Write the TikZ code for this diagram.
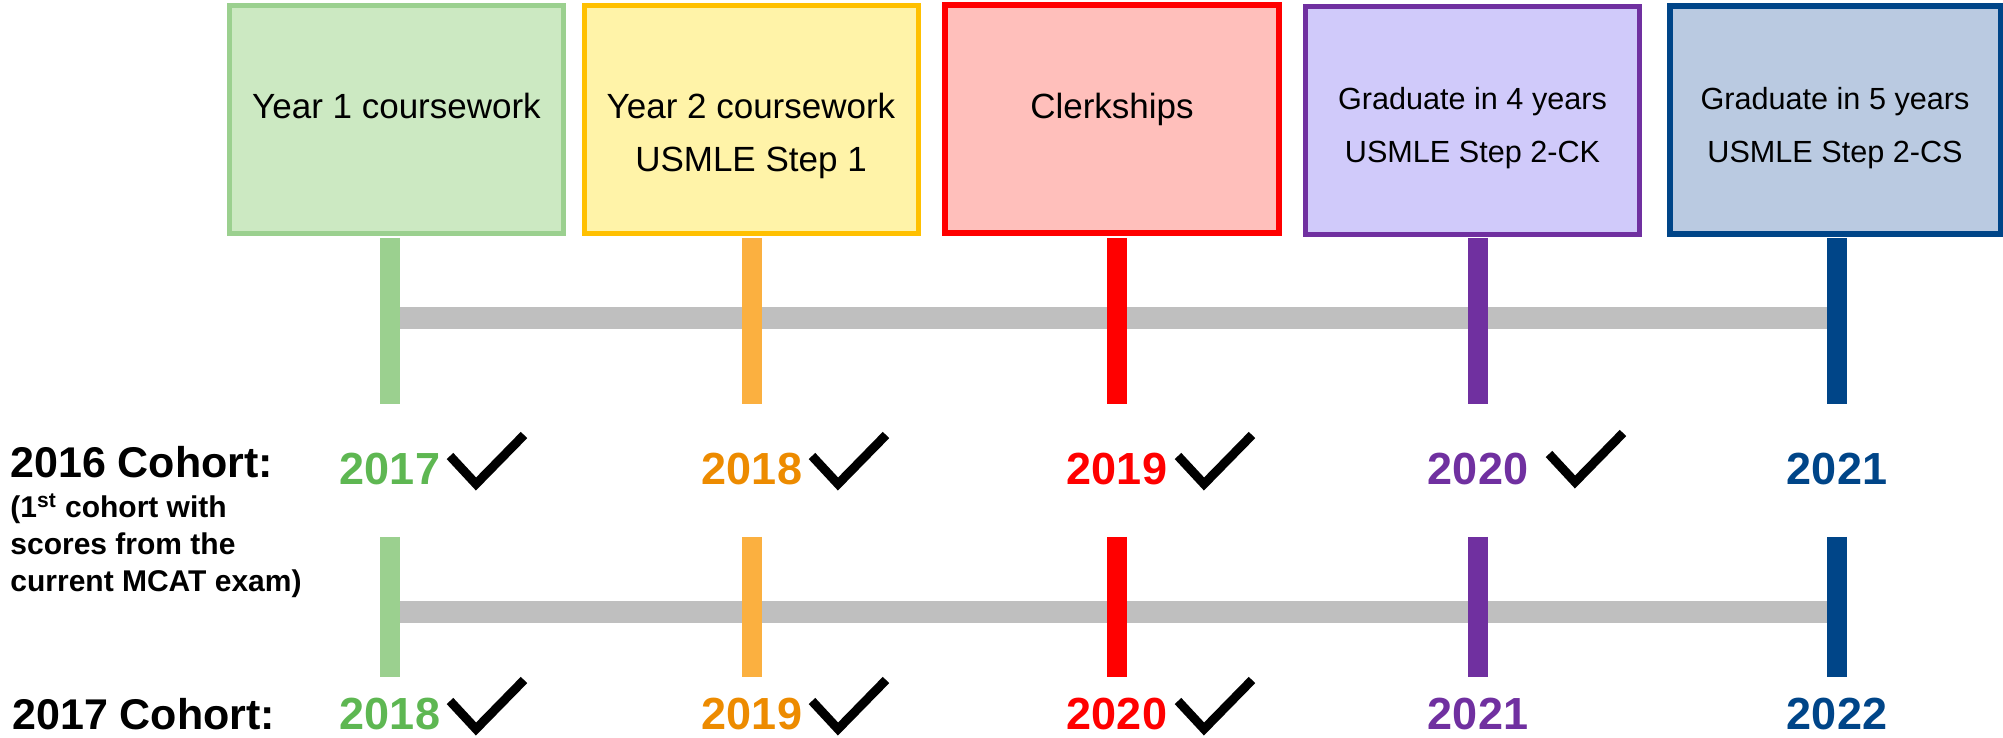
\documentclass[tikz,border=0pt]{standalone}
\usepackage{fontspec}
\setmainfont{Liberation Sans}
\usepackage{xcolor}
\usepackage{tikz}

\definecolor{greenline}{RGB}{155,208,143}
\definecolor{greenfill}{RGB}{204,233,194}
\definecolor{greentext}{RGB}{94,183,82}
\definecolor{orangeline}{RGB}{255,192,0}
\definecolor{orangefill}{RGB}{255,243,168}
\definecolor{orangetick}{RGB}{251,176,64}
\definecolor{orangetext}{RGB}{237,139,0}
\definecolor{redfill}{RGB}{255,191,187}
\definecolor{purpleline}{RGB}{112,48,160}
\definecolor{purplefill}{RGB}{208,202,250}
\definecolor{blueline}{RGB}{0,69,136}
\definecolor{bluefill}{RGB}{186,202,225}
\definecolor{railgray}{RGB}{191,191,191}

\begin{document}
\begin{tikzpicture}[x=0.5pt,y=0.5pt,
  card/.style={draw, line width=2.5pt, minimum width=167pt, minimum height=114pt, inner sep=0pt},
  cardtext/.style={align=center, anchor=base, inner sep=0pt, font=\fontsize{17.5}{26.5}\selectfont},
  smalltext/.style={cardtext, font=\fontsize{15.3}{26.5}\selectfont},
  bar/.style={line width=10pt},
  rail/.style={line width=11pt, draw=railgray},
  year/.style={anchor=base, inner sep=0pt, font=\fontsize{22.5}{27}\selectfont\bfseries},
  cohort/.style={anchor=base west, inner sep=0pt, font=\fontsize{21.5}{26}\selectfont\bfseries},
  note/.style={anchor=base west, inner sep=0pt, align=left, font=\fontsize{15}{18.5}\selectfont\bfseries},
  okmark/.pic={\draw[line width=4.5pt, miter limit=4] (-26,28) -- (0,0) -- (48,49);}
]
\useasboundingbox (0,0) rectangle (2003,738);

% Tick coordinates (upper and lower timeline)
\coordinate (u1) at (390,500);  \coordinate (u1b) at (390,334);
\coordinate (u2) at (752,500);  \coordinate (u2b) at (752,334);
\coordinate (u3) at (1117,500); \coordinate (u3b) at (1117,334);
\coordinate (u4) at (1478,500); \coordinate (u4b) at (1478,334);
\coordinate (u5) at (1837,500); \coordinate (u5b) at (1837,334);
\coordinate (l1) at (390,201);  \coordinate (l1b) at (390,61);
\coordinate (l2) at (752,201);  \coordinate (l2b) at (752,61);
\coordinate (l3) at (1117,201); \coordinate (l3b) at (1117,61);
\coordinate (l4) at (1478,201); \coordinate (l4b) at (1478,61);
\coordinate (l5) at (1837,201); \coordinate (l5b) at (1837,61);

% Gray rails
\draw[rail] (390,420) -- (1837,420);
\draw[rail] (390,126) -- (1837,126);

% Upper ticks
\draw[bar, greenline] (u1) -- (u1b);
\draw[bar, orangetick] (u2) -- (u2b);
\draw[bar, red] (u3) -- (u3b);
\draw[bar, purpleline] (u4) -- (u4b);
\draw[bar, blueline] (u5) -- (u5b);

% Lower ticks
\draw[bar, greenline] (l1) -- (l1b);
\draw[bar, orangetick] (l2) -- (l2b);
\draw[bar, red] (l3) -- (l3b);
\draw[bar, purpleline] (l4) -- (l4b);
\draw[bar, blueline] (l5) -- (l5b);

% Stage boxes
\node[card, draw=greenline, fill=greenfill] (yr1) at (396.5,618.5) {};
\node[card, draw=orangeline, fill=orangefill] (yr2) at (751,618.5) {};
\node[card, draw=red, fill=redfill, line width=3pt] (clerk) at (1112,618.5) {};
\node[card, draw=purpleline, fill=purplefill] (grad4) at (1472.5,617) {};
\node[card, draw=blueline, fill=bluefill, line width=3pt, minimum width=165.5pt] (grad5) at (1835,618) {};

% (base of a two-line text = baseline of its last line)
\node[cardtext] (yr1txt) at (396.5,619) {Year 1 coursework};
\node[cardtext] (yr2txt) at (751,566) {Year 2 coursework\\USMLE Step 1};
\node[cardtext] (clerktxt) at (1112,619) {Clerkships};
\node[smalltext] (grad4txt) at (1472.5,575) {Graduate in 4 years\\USMLE Step 2-CK};
\node[smalltext] (grad5txt) at (1835,575) {Graduate in 5 years\\USMLE Step 2-CS};

% Cohort labels
\node[cohort] (c16) at (10,260) {2016 Cohort:};
\node[note] (c16note) at (10,146) {(1\textsuperscript{st} cohort with\\scores from the\\current MCAT exam)};
\node[cohort] (c17) at (12,8) {2017 Cohort:};

% Years, 2016 cohort
\node[year, greentext] (a17) at (390,253) {2017};
\node[year, orangetext] (a18) at (752,253) {2018};
\node[year, red] (a19) at (1117,253) {2019};
\node[year, purpleline] (a20) at (1478,253) {2020};
\node[year, blueline] (a21) at (1837,253) {2021};

% Years, 2017 cohort
\node[year, greentext] (b18) at (390,8) {2018};
\node[year, orangetext] (b19) at (752,8) {2019};
\node[year, red] (b20) at (1117,8) {2020};
\node[year, purpleline] (b21) at (1478,8) {2021};
\node[year, blueline] (b22) at (1837,8) {2022};

% Check marks
\pic at (476,254) {okmark};
\pic at (838,254) {okmark};
\pic at (1204,254) {okmark};
\pic at (1575,256) {okmark};
\pic at (476,9) {okmark};
\pic at (838,9) {okmark};
\pic at (1204,9) {okmark};

\end{tikzpicture}
\end{document}
